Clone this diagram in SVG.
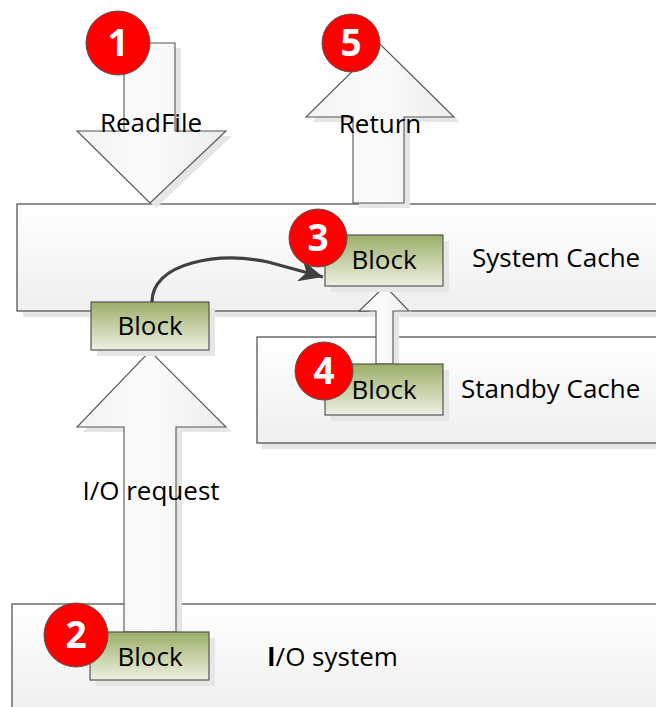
<svg xmlns="http://www.w3.org/2000/svg" width="656" height="707" viewBox="0 0 656 707">
<defs>
<linearGradient id="boxg" x1="0" y1="0" x2="0" y2="1">
<stop offset="0" stop-color="#ffffff"/><stop offset="1" stop-color="#efefef"/>
</linearGradient>
<linearGradient id="arrg" x1="0" y1="0" x2="1" y2="0">
<stop offset="0" stop-color="#f4f4f4"/><stop offset="0.5" stop-color="#fbfbfb"/><stop offset="1" stop-color="#ececec"/>
</linearGradient>
<linearGradient id="blkg" x1="0" y1="0" x2="0" y2="1">
<stop offset="0" stop-color="#9bae68"/><stop offset="1" stop-color="#eef1e2"/>
</linearGradient>
<marker id="ah" markerWidth="26" markerHeight="22" refX="24" refY="11" orient="auto" markerUnits="userSpaceOnUse">
<path d="M0,0 L24,11 L0,22 L7,11 Z" fill="#404040"/>
</marker>
<style>
.box{fill:url(#boxg);stroke:#555;stroke-width:1.3}
.shd{fill:#e6e6e6}
.arr{fill:url(#arrg);stroke:#555;stroke-width:1.1}
.blk{fill:url(#blkg);stroke:#555;stroke-width:1.2}
.t{font-family:"Open Sans","DejaVu Sans",sans-serif;font-size:26px;fill:#000}
.c{text-anchor:middle}
.badge{fill:#ff0000;stroke:#555;stroke-width:1}
.num{font-family:"Open Sans","DejaVu Sans",sans-serif;font-size:37px;font-weight:bold;fill:#fff;text-anchor:middle}
</style>
</defs>

<g id="system-cache">
<rect class="shd" x="23" y="209" width="660" height="108"/>
<rect class="box" x="17" y="204" width="660" height="107"/>
<text class="t" x="472" y="267">System Cache</text>
</g>

<g id="standby-cache">
<rect class="shd" x="262" y="343" width="420" height="106"/>
<rect class="box" x="257" y="337" width="420" height="106"/>
<text class="t" x="461" y="398">Standby Cache</text>
</g>

<g id="io-system">
<rect class="shd" x="18" y="610" width="660" height="110"/>
<rect class="box" x="12" y="604" width="660" height="110"/>
<text class="t" x="267" y="666"><tspan font-weight="bold">I</tspan>/O system</text>
</g>

<g id="readfile-arrow">
<path class="shd" d="M130,48 L181,48 L181,136 L232,136 L156,208 L82,136 L130,136 Z"/>
<path class="arr" d="M124,43 L175,43 L175,131 L226,131 L150,203 L77,131 L124,131 Z"/>
<text class="t c" x="151" y="132">ReadFile</text>
</g>

<g id="return-arrow">
<path class="shd" d="M359,208 L410,208 L410,122 L460,122 L386,49 L312,122 L359,122 Z"/>
<path class="arr" d="M353,203 L404,203 L404,117 L454,117 L380,44 L306,117 L353,117 Z"/>
<text class="t c" x="380" y="133">Return</text>
</g>

<g id="io-request-arrow">
<path class="shd" d="M130,637 L182,637 L182,432 L232,432 L155,356 L83,432 L130,432 Z"/>
<path class="arr" d="M124,632 L176,632 L176,427 L226,427 L150,351 L77,427 L124,427 Z"/>
<text class="t c" x="151" y="500">I/O request</text>
</g>

<g id="promote-arrow">
<path class="shd" d="M382,369 L399,369 L399,316 L415,316 L391,291 L365,316 L382,316 Z"/>
<path class="arr" d="M376,364 L393,364 L393,311 L409,311 L385,286 L359,311 L376,311 Z"/>
</g>

<g id="block-1">
<rect class="shd" x="97" y="308" width="118" height="48"/>
<rect class="blk" x="91" y="302" width="118" height="48"/>
<text class="t c" x="150" y="335">Block</text>
</g>

<g id="block-3">
<rect class="shd" x="331" y="241" width="118" height="51"/>
<rect class="blk" x="325" y="235" width="118" height="51"/>
<text class="t c" x="384" y="269">Block</text>
</g>

<g id="block-4">
<rect class="shd" x="331" y="370" width="118" height="51"/>
<rect class="blk" x="325" y="364" width="118" height="51"/>
<text class="t c" x="384" y="399">Block</text>
</g>

<g id="block-2">
<rect class="shd" x="96" y="638" width="119" height="48"/>
<rect class="blk" x="90" y="632" width="119" height="48"/>
<text class="t c" x="150" y="666">Block</text>
</g>

<g id="connectors">
<path d="M152,302 C152,284 166,270 192,263 C214,257 240,256 268,262 L323,277" fill="none" stroke="#404040" stroke-width="3.2" marker-end="url(#ah)"/>
</g>

<g id="badge-1"><circle class="badge" cx="118" cy="43" r="32"/><text class="num" x="118" y="56">1</text></g>
<g id="badge-5"><circle class="badge" cx="351" cy="43" r="29"/><text class="num" x="351" y="56">5</text></g>
<g id="badge-3"><circle class="badge" cx="318" cy="238" r="29"/><text class="num" x="318" y="251">3</text></g>
<g id="badge-4"><circle class="badge" cx="324" cy="371" r="29"/><text class="num" x="324" y="384">4</text></g>
<g id="badge-2"><circle class="badge" cx="76" cy="635" r="32"/><text class="num" x="76" y="648">2</text></g>
</svg>
